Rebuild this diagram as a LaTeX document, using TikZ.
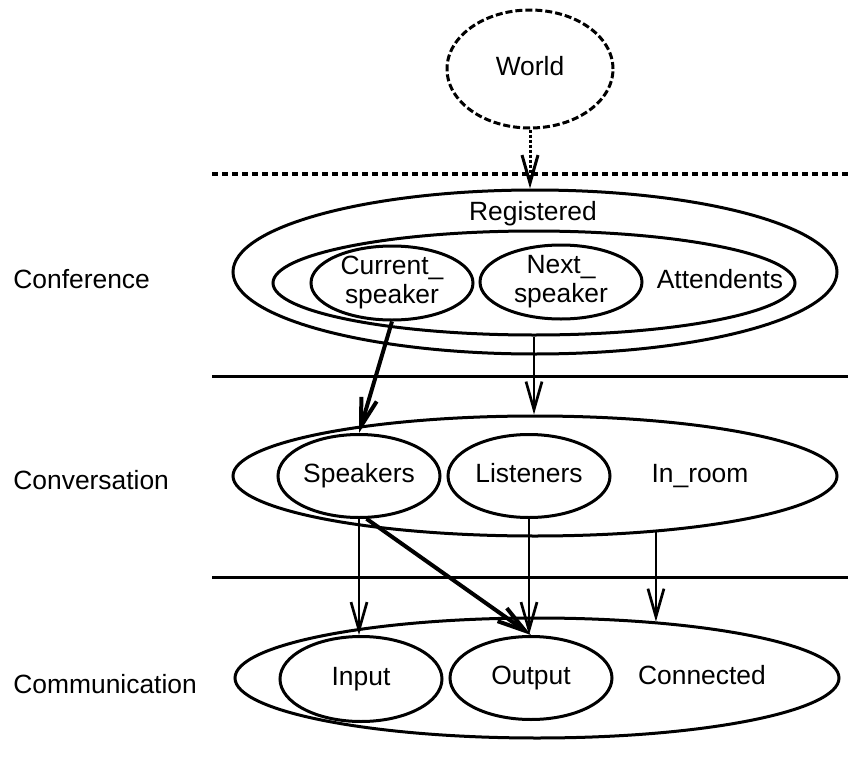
\documentclass[tikz,border=0pt]{standalone}
\usepackage{fontspec}
\setmainfont{Liberation Sans}
\usetikzlibrary{shapes.geometric,arrows.meta}
\begin{document}
\begin{tikzpicture}[x=0.5pt,y=-0.5pt,
  font=\fontsize{13.2}{14.5}\selectfont,
  every node/.style={text height=9.5pt,text depth=2.8pt},
  set/.style={ellipse,draw,line width=1.5pt,inner sep=0pt},
  wide/.style={set,minimum width=302pt,minimum height=60pt},
  small/.style={set,minimum width=81pt,minimum height=41.5pt},
  twoline/.style={set,minimum width=81pt,minimum height=37pt},
  layer/.style={line width=1.5pt},
  arr/.style={line width=1.35pt,-{Straight Barb[length=14pt,width=8pt]}},
  heavy/.style={arr,line width=2pt},
  lbl/.style={anchor=west,inner sep=0pt}
]
\useasboundingbox (0,0) rectangle (848,777);

% the world outside the system
\node[set,dash pattern=on 3.5pt off 1.5pt,minimum width=83pt,minimum height=59pt] (world) at (530,69) {World};

% layer separators
\coordinate (s1a) at (212,174); \coordinate (s1b) at (848,174);
\coordinate (s2a) at (212,376); \coordinate (s2b) at (848,376);
\coordinate (s3a) at (212,577); \coordinate (s3b) at (848,577);
\draw[line width=1.7pt,dash pattern=on 3pt off 2pt] (s1a) -- (s1b);
\draw[layer] (s2a) -- (s2b);
\draw[layer] (s3a) -- (s3b);

% layer names
\node[lbl] (conference) at (13,282) {Conference};
\node[lbl] (conversationname) at (13,483) {Conversation};
\node[lbl] (communicationname) at (13,687) {Communication};

% conference layer
\node[set,minimum width=302pt,minimum height=82pt] (registered) at (535,272) {};
\node (registeredtext) at (533,214) {Registered};
\node[set,minimum width=261pt,minimum height=52pt] (attendents) at (534,283) {};
\node (attendentstext) at (720,282) {Attendents};
\node[twoline,label={[align=center,text height=,text depth=]center:{Current\_\\speaker}}] (current) at (392,283) {};
\node[twoline,label={[align=center,text height=,text depth=]center:{Next\_\\speaker}}] (next) at (561,282) {};

% conversation layer
\node[wide] (conversation) at (535,476) {};
\node[small] (speakers) at (359,476) {Speakers};
\node[small] (listeners) at (529,476) {Listeners};
\node (inroom) at (700,476) {In\_room};

% communication layer
\node[wide] (communication) at (537,678) {};
\node[small,minimum height=42.5pt] (input) at (361,679) {Input};
\node[small] (output) at (531,678) {Output};
\node (connected) at (702,678) {Connected};

% mappings between layers
\draw[arr,line width=1.5pt,dash pattern=on 1.5pt off 1pt] (world.south) -- (world.south |- registered.north);
\draw[heavy] (current.south) -- (speakers.north);
\draw[arr] (attendents.south) -- (attendents.south |- conversation.north);
\draw[arr] (speakers.south) -- (speakers.south |- input.north);
\draw[arr] (listeners.south) -- (listeners.south |- output.north);
\draw[heavy] (speakers.-80) -- (output.north);
\draw[arr] (conversation.-25) -- (conversation.-25 |- communication.25);
\end{tikzpicture}
\end{document}
